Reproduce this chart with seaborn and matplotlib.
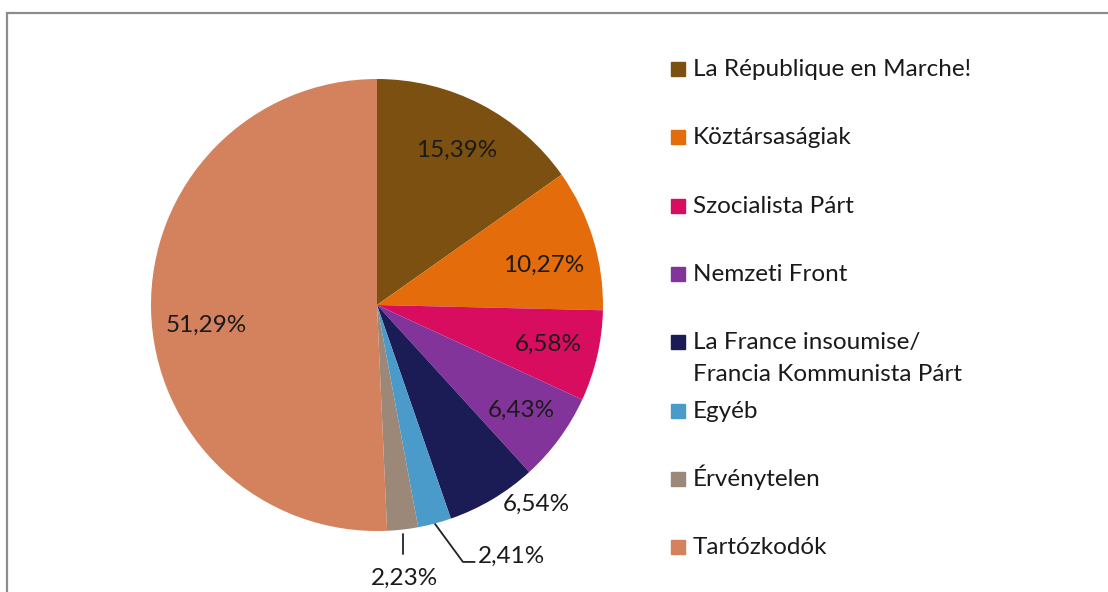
"""
Pie chart: 2017 French legislative election results (Hungarian labels).
"""

import numpy as np
import matplotlib
matplotlib.use("Agg")
import matplotlib.pyplot as plt
from matplotlib.patches import Rectangle
import seaborn as sns

# data
parties = [
    "La République en Marche!",
    "Köztársaságiak",
    "Szocialista Párt",
    "Nemzeti Front",
    "La France insoumise/\nFrancia Kommunista Párt",
    "Egyéb",
    "Érvénytelen",
    "Tartózkodók",
]
shares = [15.39, 10.27, 6.58, 6.43, 6.54, 2.41, 2.23, 51.29]
share_labels = ["15,39%", "10,27%", "6,58%", "6,43%", "6,54%", "2,41%", "2,23%", "51,29%"]
colors = ["#7B5011", "#E46C0A", "#D80D5F", "#83349A", "#1B1B55",
          "#4A9BCA", "#9B8878", "#D4815E"]

# label placement: radius (fraction of pie) and clockwise angle nudge in degrees
label_radius = [0.77, 0.76, 0.78, 0.79, 1.13, None, None, 0.76]
label_nudge = [0, 3.5, 0, 0, -8, 0, 0, -5.5]

sns.set_theme(style="white")
plt.rcParams['font.family'] = ['Lato', 'DejaVu Sans']

W, H = 1108, 592
fig = plt.figure(figsize=(W / 100, H / 100), dpi=100)

# pie axes: centre at (377, 305) px, radius 226 px
R_PX = 226
cx, cy = 377, 305
x0, x1 = -1.3, 1.3
y1 = cy / R_PX - 0.05
y0 = -(H - cy) / R_PX
ax = fig.add_axes([(cx + x0 * R_PX) / W, 0, (x1 - x0) * R_PX / W, (y1 - y0) * R_PX / H])

wedges, _ = ax.pie(shares, colors=sns.color_palette(colors), startangle=90,
                   counterclock=False, radius=1.0,
                   wedgeprops=dict(linewidth=0))
ax.set_xlim(x0, x1)
ax.set_ylim(y0, y1)
ax.set_aspect("auto")
ax.axis("off")

FS = 17.5
TXT = "#1a1a1a"
for w, lab, r, nd in zip(wedges, share_labels, label_radius, label_nudge):
    mid = np.deg2rad((w.theta1 + w.theta2) / 2 - nd)
    if r is not None:
        ax.text(r * np.cos(mid), r * np.sin(mid), lab, ha="center", va="center",
                fontsize=FS, color=TXT)

# leader lines for the two thin slices
w = wedges[5]
mid = np.deg2rad((w.theta1 + w.theta2) / 2)
ex, ey = np.cos(mid), np.sin(mid)
ax.plot([ex, ex + 0.125, ex + 0.18], [ey, ey - 0.17, ey - 0.17],
        color="#222222", lw=1.3, solid_capstyle="butt")
ax.text(ex + 0.19, ey - 0.145, share_labels[5], ha="left", va="center",
        fontsize=FS, color=TXT)

w = wedges[6]
mid = np.deg2rad((w.theta1 + w.theta2) / 2)
ex, ey = np.cos(mid), np.sin(mid)
ax.plot([ex, ex], [ey - 0.02, ey - 0.11], color="#222222", lw=1.3)
ax.text(ex + 0.01, ey - 0.215, share_labels[6], ha="center", va="center",
        fontsize=FS, color=TXT)

# legend, Excel style: fixed row pitch, extra lines of a label just hang below
leg_x, leg_y, pitch, line_px = 678, 69, 68.3, 32
for i, (name, col) in enumerate(zip(parties, colors)):
    y = leg_y + i * pitch
    fig.patches.append(Rectangle(((leg_x - 7) / W, 1 - (y + 7) / H), 14 / W, 14 / H,
                                 transform=fig.transFigure, color=col))
    for k, line in enumerate(name.split("\n")):
        fig.text((leg_x + 15) / W, 1 - (y + 7 + k * line_px) / H, line,
                 ha="left", va="baseline", fontsize=FS, color=TXT)

# outer frame (only top and left edges fall inside the picture)
fig.patches.append(Rectangle((7 / W, -0.5), 2.0, 1.5 - 13 / H, transform=fig.transFigure,
                             fill=False, edgecolor="#8c8c8c", lw=1.6))

fig.savefig("out.png", dpi=100)
